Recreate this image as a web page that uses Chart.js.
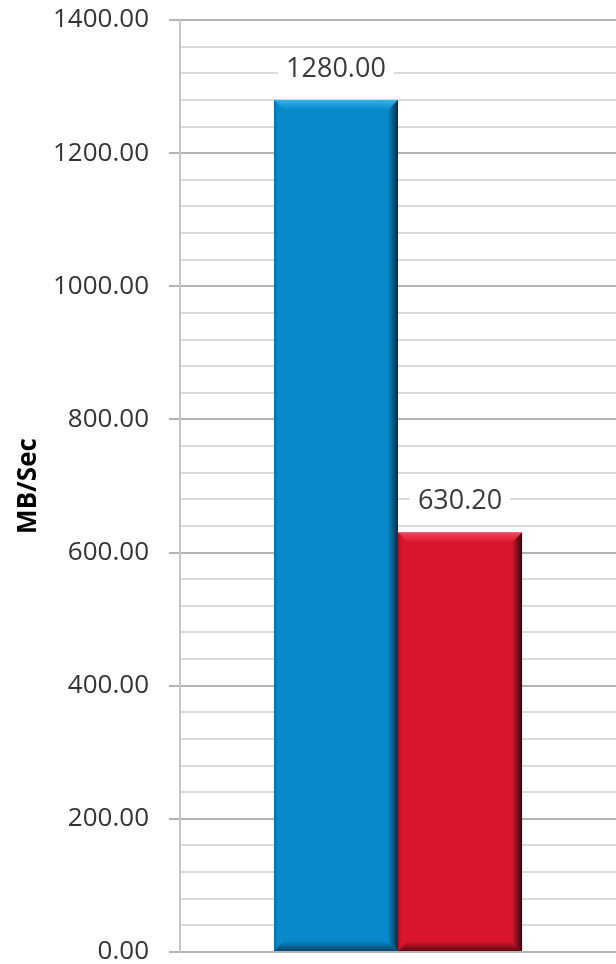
<!DOCTYPE html>
<html lang="en">
  <head>
    <meta charset="UTF-8" />
    <title>MB/Sec</title>
    <script src="https://cdn.jsdelivr.net/npm/chart.js@4.4.0/dist/chart.umd.min.js"></script>
    <style>
      html, body { margin: 0; padding: 0; background: #fff; }
      #wrap { width: 616px; height: 964px; }
    </style>
  </head>
  <body>
    <div id="wrap">
      <canvas id="myChart" width="616" height="964"></canvas>
    </div>

    <script>
      // throughput data
      const categories = [""];
      const series_names = ["Series A", "Series B"];
      const series_values = [1280.0, 630.2];
      const bar_colors = ["#0789CB", "#D9162C"];
      const bar_light = ["#33B4EE", "#F2445A"];
      const bar_dark = ["#052E45", "#3A030B"];

      // y axis
      const y_min = 0;
      const y_max = 1400;
      const y_major = 200;
      const y_minor = 40;
      const y_title = "MB/Sec";

      const FONT = "'Open Sans', 'Liberation Sans', sans-serif";

      // bevelled look on each bar, drawn over the bar rectangle
      const bevelPlugin = {
        id: "bevel",
        afterDatasetsDraw(chart) {
          const c = chart.ctx;
          chart.data.datasets.forEach((ds, i) => {
            chart.getDatasetMeta(i).data.forEach((bar) => {
              const l = bar.x - bar.width / 2;
              const r = bar.x + bar.width / 2;
              const t = bar.y;
              const b = bar.base;
              const s = 10;
              c.save();

              // top face
              let g = c.createLinearGradient(0, t, 0, t + s);
              g.addColorStop(0, bar_light[i]);
              g.addColorStop(1, bar_colors[i]);
              c.fillStyle = g;
              c.beginPath();
              c.moveTo(l, t); c.lineTo(r, t); c.lineTo(r - s, t + s); c.lineTo(l + s, t + s);
              c.closePath(); c.fill();

              // right face
              g = c.createLinearGradient(r - s, 0, r, 0);
              g.addColorStop(0, bar_colors[i]);
              g.addColorStop(1, bar_dark[i]);
              c.fillStyle = g;
              c.beginPath();
              c.moveTo(r, t); c.lineTo(r, b); c.lineTo(r - s, b - s); c.lineTo(r - s, t + s);
              c.closePath(); c.fill();

              // bottom face
              g = c.createLinearGradient(0, b - s, 0, b);
              g.addColorStop(0, bar_colors[i]);
              g.addColorStop(1, bar_dark[i]);
              c.globalAlpha = 0.75;
              c.fillStyle = g;
              c.beginPath();
              c.moveTo(l, b); c.lineTo(r, b); c.lineTo(r - s, b - s); c.lineTo(l + s, b - s);
              c.closePath(); c.fill();

              // left face, just a touch darker
              c.globalAlpha = 0.25;
              g = c.createLinearGradient(l, 0, l + 4, 0);
              g.addColorStop(0, bar_dark[i]);
              g.addColorStop(1, bar_colors[i]);
              c.fillStyle = g;
              c.fillRect(l, t + 2, 4, b - t - 2);
              c.restore();
            });
          });
        },
        afterDraw(chart) {
          const c = chart.ctx;
          const area = chart.chartArea;
          // value labels with a white box behind them
          c.save();
          c.font = "27px " + FONT;
          c.textAlign = "center";
          c.textBaseline = "middle";
          chart.data.datasets.forEach((ds, i) => {
            chart.getDatasetMeta(i).data.forEach((bar, j) => {
              const txt = ds.data[j].toFixed(2);
              const w = c.measureText(txt).width + 16;
              const y = bar.y - 31;
              c.fillStyle = "#fff";
              c.fillRect(bar.x - w / 2, y - 14, w, 28);
              c.fillStyle = "#3a3a3a";
              c.fillText(txt, bar.x, y);
            });
          });

          // axis title
          c.font = "bold 26px " + FONT;
          c.fillStyle = "#000";
          c.translate(29, (area.top + area.bottom) / 2);
          c.rotate(-Math.PI / 2);
          c.fillText(y_title, 0, 0);
          c.restore();
        },
      };

      const ctx = document.getElementById("myChart").getContext("2d");

      const myChart = new Chart(ctx, {
        type: "bar",
        data: {
          labels: categories,
          datasets: series_values.map((v, i) => ({
            label: series_names[i],
            data: [v],
            backgroundColor: bar_colors[i],
            borderWidth: 0,
          })),
        },
        options: {
          responsive: false,
          animation: false,
          layout: { padding: { top: 20, bottom: 12, left: 0, right: 0 } },
          plugins: {
            legend: { display: false },
            tooltip: { enabled: false },
          },
          datasets: {
            bar: { categoryPercentage: 0.569, barPercentage: 1.0 },
          },
          scales: {
            x: { display: false },
            y: {
              min: y_min,
              max: y_max,
              afterFit(scale) {
                scale.width = 180;
                scale.paddingTop = 0;
                scale.paddingBottom = 0;
              },
              ticks: {
                stepSize: y_minor,
                autoSkip: false,
                padding: 20,
                color: "#333",
                font: { family: FONT, size: 26 },
                callback: (v) => (v % y_major === 0 ? Number(v).toFixed(2) : ""),
              },
              grid: {
                lineWidth: 2,
                tickLength: 11,
                color: (c) => (c.tick.value % y_major === 0 ? "#B3B3B3" : "#DADADA"),
                tickColor: (c) => (c.tick.value % y_major === 0 ? "#B3B3B3" : "rgba(0,0,0,0)"),
              },
              border: { color: "#C4C4C4", width: 2 },
            },
          },
        },
        plugins: [bevelPlugin],
      });
    </script>
  </body>
</html>
